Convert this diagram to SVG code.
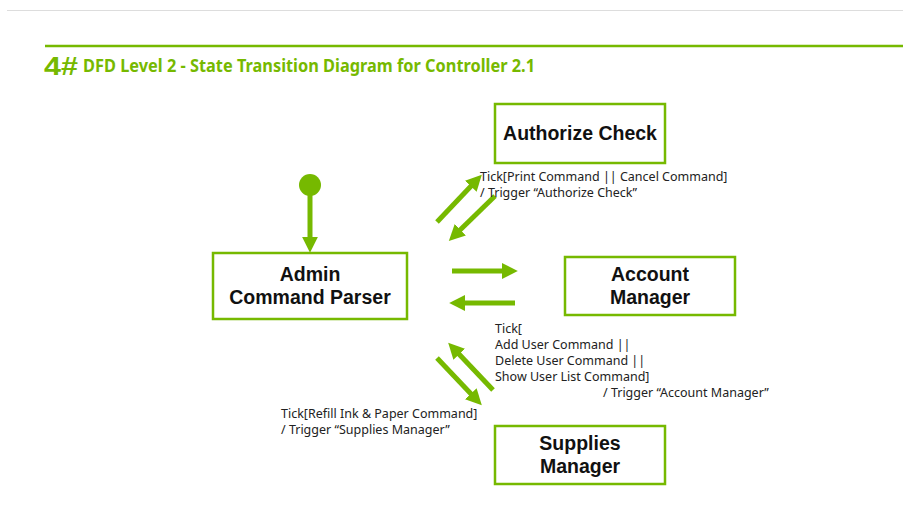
<svg xmlns="http://www.w3.org/2000/svg" width="903" height="509" viewBox="0 0 903 509">
<defs>
<marker id="ah" viewBox="0 0 10 10" refX="2" refY="5" markerWidth="3.2" markerHeight="3.2" orient="auto" markerUnits="strokeWidth">
<path d="M0,0 L10,5 L0,10 z" fill="#76B900"/>
</marker>
</defs>
<style>
.box{fill:#fff;stroke:#76B900;stroke-width:2.5}
.bt{font-family:"Liberation Sans",Arial,sans-serif;font-weight:bold;font-size:19.5px;fill:#111;text-anchor:middle}
.lb{font-family:"Noto Sans","Liberation Sans",sans-serif;font-size:12.5px;fill:#222}
.ar{stroke:#76B900;stroke-width:5;fill:none;marker-end:url(#ah)}
</style>
<rect width="903" height="509" fill="#fff"/>
<line x1="7" y1="10.5" x2="903" y2="10.5" stroke="#ddd" stroke-width="1"/>
<line x1="45" y1="46" x2="903" y2="46" stroke="#76B900" stroke-width="2.5"/>
<text x="44" y="75" font-family="'Liberation Sans',sans-serif" font-weight="bold" font-size="25" fill="#76B900" textLength="34" lengthAdjust="spacingAndGlyphs">4#</text>
<text x="83" y="72" font-family="'Noto Sans','Liberation Sans',sans-serif" font-weight="bold" font-size="17" fill="#76B900" textLength="452" lengthAdjust="spacingAndGlyphs">DFD Level 2 - State Transition Diagram for Controller 2.1</text>

<g id="start">
<circle cx="310" cy="185" r="11" fill="#76B900"/>
</g>
<g id="admin">
<rect class="box" x="213" y="253" width="194" height="66"/>
<text class="bt" x="310" y="281">Admin</text>
<text class="bt" x="310" y="304">Command Parser</text>
</g>
<g id="authorize">
<rect class="box" x="495" y="104" width="170" height="59"/>
<text class="bt" x="580" y="140">Authorize Check</text>
</g>
<g id="account">
<rect class="box" x="565" y="257" width="170" height="58"/>
<text class="bt" x="650" y="281">Account</text>
<text class="bt" x="650" y="304">Manager</text>
</g>
<g id="supplies">
<rect class="box" x="495" y="426" width="170" height="58"/>
<text class="bt" x="580" y="450">Supplies</text>
<text class="bt" x="580" y="473">Manager</text>
</g>

<g id="connectors">
<line class="ar" x1="310" y1="195" x2="310" y2="240"/>
<line class="ar" x1="437" y1="222" x2="473" y2="184"/>
<line class="ar" x1="495" y1="196" x2="458" y2="232"/>
<line class="ar" x1="452" y1="271" x2="505" y2="271"/>
<line class="ar" x1="515" y1="303" x2="462" y2="303"/>
<line class="ar" x1="493" y1="390" x2="457" y2="352"/>
<line class="ar" x1="437" y1="358" x2="473" y2="396"/>
</g>

<g id="labels">
<text class="lb" x="480" y="181">Tick[Print Command || Cancel Command]</text>
<text class="lb" x="480" y="197">/ Trigger “Authorize Check”</text>
<text class="lb" x="495" y="333">Tick[</text>
<text class="lb" x="495" y="349">Add User Command ||</text>
<text class="lb" x="495" y="365">Delete User Command ||</text>
<text class="lb" x="495" y="381">Show User List Command]</text>
<text class="lb" x="603" y="397">/ Trigger “Account Manager”</text>
<text class="lb" x="281" y="418">Tick[Refill Ink &amp; Paper Command]</text>
<text class="lb" x="281" y="434">/ Trigger “Supplies Manager”</text>
</g>
</svg>
